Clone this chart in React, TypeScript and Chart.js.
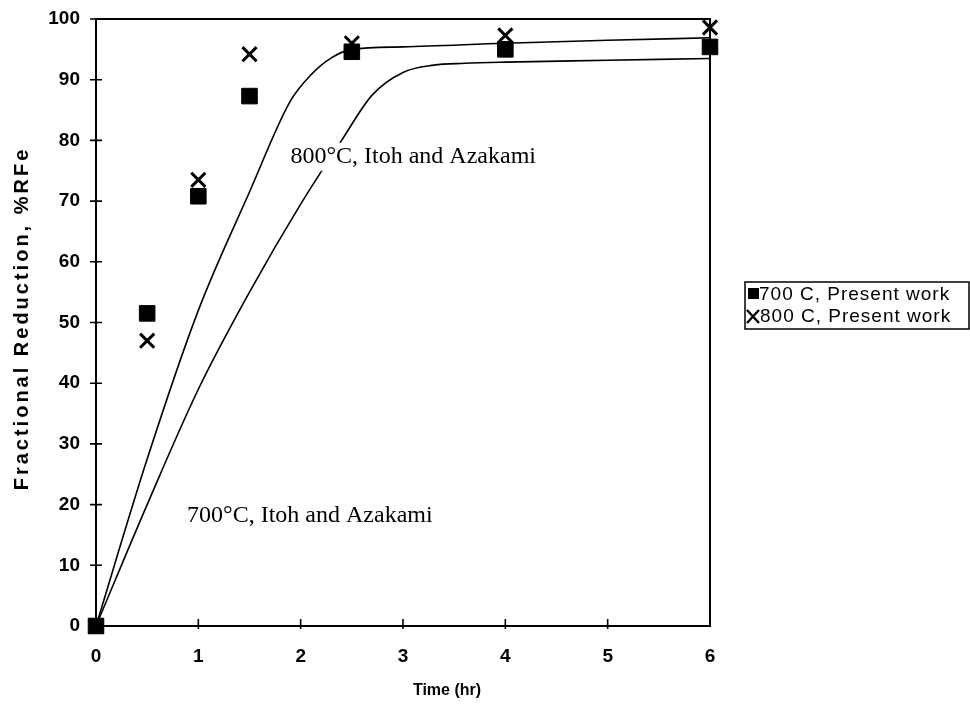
import React, { useEffect, useRef } from "react";
import { Chart, registerables } from "chart.js";

Chart.register(...registerables);

// ---- data ----
const presentTime = [0, 0.5, 1, 1.5, 2.5, 4, 6];
const present700 = [0, 51.5, 70.8, 87.3, 94.6, 95.0, 95.4];
const present800 = [0, 47, 73.5, 94.2, 96.0, 97.3, 98.6];

const itoh800Time = [0, 0.5, 1, 1.5, 1.9, 2.1, 2.3, 2.5, 3, 4, 5, 6];
const itoh800 = [0, 27.5, 52, 71.5, 86.5, 90.8, 93.6, 95.0, 95.4, 96.0, 96.5, 96.9];

const itoh700Time = [0, 0.5, 1, 1.5, 2, 2.4, 2.7, 3.0, 3.3, 3.6, 4, 5, 6];
const itoh700 = [0, 20, 39, 55, 69.5, 80, 87.5, 91.2, 92.4, 92.7, 92.9, 93.2, 93.5];

const yTickValues = [0, 10, 20, 30, 40, 50, 60, 70, 80, 90, 100];
const xTickValues = [0, 1, 2, 3, 4, 5, 6];

const legendLabels = ["700 C, Present work", "800 C, Present work"];
const curveLabels = ["800°C, Itoh and Azakami", "700°C, Itoh and Azakami"];
const curveLabelAt = [
  { x: 1.9, y: 77.3 },
  { x: 0.89, y: 18.1 },
];
const xTitle = "Time (hr)";
const yTitle = "Fractional Reduction, %RFe";

const SANS = '"Liberation Sans", Arial, sans-serif';
const SERIF = '"Liberation Serif", "Times New Roman", serif';

const toPts = (xs: number[], ys: number[]) => xs.map((x, i) => ({ x, y: ys[i] }));

const decorPlugin = {
  id: "decor",
  beforeDatasetsDraw(chart: any) {
    const { ctx, chartArea: a, scales } = chart;
    const xs = scales.x;
    const ys = scales.y;
    ctx.save();
    ctx.strokeStyle = "#000";
    ctx.lineWidth = 2;
    ctx.strokeRect(a.left, a.top, a.right - a.left, a.bottom - a.top);
    ctx.lineWidth = 1.6;
    ctx.beginPath();
    yTickValues.forEach((v) => {
      const y = ys.getPixelForValue(v);
      ctx.moveTo(a.left - 6, y);
      ctx.lineTo(a.left + 6, y);
    });
    xTickValues.slice(1, -1).forEach((v) => {
      const x = xs.getPixelForValue(v);
      ctx.moveTo(x, a.bottom - 7);
      ctx.lineTo(x, a.bottom + 3);
    });
    ctx.stroke();
    ctx.restore();
  },
  afterDraw(chart: any) {
    const { ctx, chartArea: a, scales } = chart;
    const xs = scales.x;
    const ys = scales.y;
    ctx.save();
    ctx.fillStyle = "#000";
    ctx.strokeStyle = "#000";

    // curve annotations (white backing masks the curve under the text)
    ctx.font = `24px ${SERIF}`;
    ctx.textAlign = "left";
    ctx.textBaseline = "middle";
    curveLabels.forEach((t, i) => {
      const px = xs.getPixelForValue(curveLabelAt[i].x);
      const py = ys.getPixelForValue(curveLabelAt[i].y);
      const w = ctx.measureText(t).width;
      ctx.fillStyle = "#fff";
      ctx.fillRect(px - 2, py - 14, w + 4, 28);
      ctx.fillStyle = "#000";
      ctx.fillText(t, px, py);
    });

    // axis titles
    ctx.font = `bold 16px ${SANS}`;
    ctx.textAlign = "center";
    ctx.textBaseline = "middle";
    ctx.fillText(xTitle, xs.getPixelForValue(3.43), a.bottom + 65);
    ctx.save();
    ctx.translate(22, (a.top + a.bottom) / 2 - 4);
    ctx.rotate(-Math.PI / 2);
    ctx.font = `bold 20px ${SANS}`;
    (ctx as any).letterSpacing = "3px";
    ctx.fillText(yTitle, 0, 0);
    ctx.restore();

    // legend
    const lx = a.right + 35;
    const ly = 282;
    const lw = 969 - lx;
    const lh = 47;
    ctx.lineWidth = 1.5;
    ctx.strokeRect(lx, ly, lw, lh);
    ctx.font = `19px ${SANS}`;
    (ctx as any).letterSpacing = "1px";
    ctx.textAlign = "left";
    ctx.textBaseline = "middle";
    const r1 = ly + 12;
    const r2 = ly + 34;
    ctx.fillRect(lx + 3, r1 - 6, 11, 11);
    ctx.fillText(legendLabels[0], lx + 14, r1 + 1);
    ctx.lineWidth = 2.4;
    ctx.beginPath();
    ctx.moveTo(lx + 2, r2 - 6);
    ctx.lineTo(lx + 14, r2 + 7);
    ctx.moveTo(lx + 14, r2 - 6);
    ctx.lineTo(lx + 2, r2 + 7);
    ctx.stroke();
    ctx.fillText(legendLabels[1], lx + 15, r2 + 1);
    (ctx as any).letterSpacing = "0px";
    ctx.restore();
  },
};

export default function App() {
  const canvasRef = useRef<HTMLCanvasElement | null>(null);

  useEffect(() => {
    if (!canvasRef.current) return;
    const chart = new Chart(canvasRef.current, {
      type: "scatter",
      data: {
        datasets: [
          {
            label: "800°C, Itoh and Azakami",
            data: toPts(itoh800Time, itoh800),
            showLine: true,
            borderColor: "#000",
            borderWidth: 1.6,
            pointRadius: 0,
            cubicInterpolationMode: "monotone",
            clip: false,
          },
          {
            label: "700°C, Itoh and Azakami",
            data: toPts(itoh700Time, itoh700),
            showLine: true,
            borderColor: "#000",
            borderWidth: 1.6,
            pointRadius: 0,
            cubicInterpolationMode: "monotone",
            clip: false,
          },
          {
            label: legendLabels[0],
            data: toPts(presentTime, present700),
            pointStyle: "rect",
            pointRadius: 11,
            backgroundColor: "#000",
            borderColor: "#000",
            borderWidth: 1,
            clip: false,
          },
          {
            label: legendLabels[1],
            data: toPts(presentTime, present800),
            pointStyle: "crossRot",
            pointRadius: 10,
            borderColor: "#000",
            borderWidth: 3,
            clip: false,
          },
        ],
      },
      options: {
        animation: false,
        responsive: true,
        maintainAspectRatio: false,
        layout: { padding: { left: 0, top: 19, right: 260, bottom: 0 } },
        plugins: {
          legend: { display: false },
          tooltip: { enabled: false },
        },
        scales: {
          x: {
            type: "linear",
            min: 0,
            max: 6,
            grid: { display: false, drawTicks: false },
            border: { display: false },
            ticks: {
              stepSize: 1,
              color: "#000",
              padding: 19,
              font: { family: SANS, size: 19, weight: "bold" },
            },
            afterFit: (s: any) => {
              s.height = 79;
              s.paddingLeft = 0;
              s.paddingRight = 0;
            },
          },
          y: {
            type: "linear",
            min: 0,
            max: 100,
            grid: { display: false, drawTicks: false },
            border: { display: false },
            ticks: {
              stepSize: 10,
              color: "#000",
              padding: 16,
              font: { family: SANS, size: 19, weight: "bold" },
            },
            afterFit: (s: any) => {
              s.width = 96;
              s.paddingTop = 0;
              s.paddingBottom = 0;
            },
          },
        },
      },
      plugins: [decorPlugin],
    } as any);
    return () => chart.destroy();
  }, []);

  return (
    <div style={{ position: "fixed", left: 0, top: 0, width: 970, height: 705, background: "#fff" }}>
      <canvas ref={canvasRef} />
    </div>
  );
}
